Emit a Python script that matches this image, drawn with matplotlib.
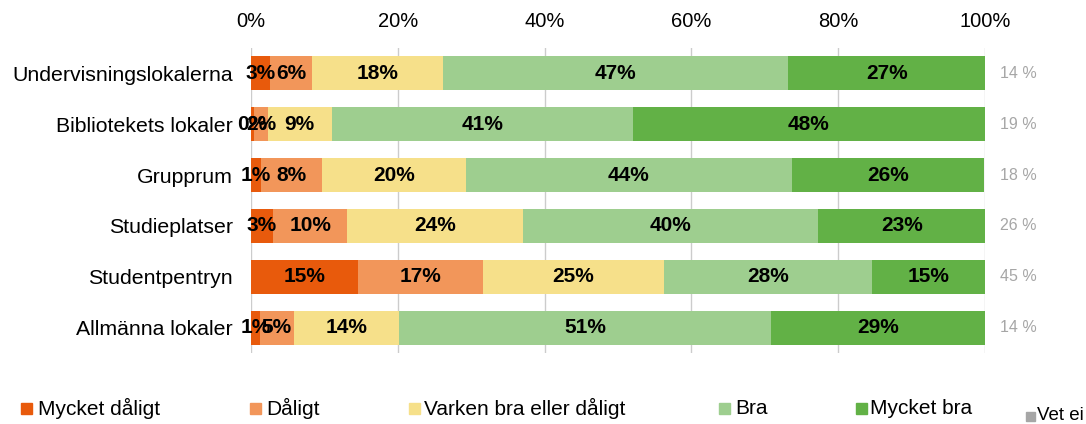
import matplotlib.pyplot as plt
from matplotlib.patches import Rectangle

plt.rcParams['font.family'] = ['Liberation Sans', 'DejaVu Sans']

# données
kategorier = ["Undervisningslokalerna", "Bibliotekets lokaler", "Grupprum",
              "Studieplatser", "Studentpentryn", "Allmänna lokaler"]
svar = ["Mycket dåligt", "Dåligt", "Varken bra eller dåligt", "Bra", "Mycket bra"]
mycket_daligt = [2.6, 0.4, 1.4, 3.0, 14.6, 1.2]
daligt = [5.7, 1.9, 8.3, 10.1, 17.0, 4.6]
varken = [17.8, 8.7, 19.6, 24.0, 24.7, 14.4]
bra = [47.1, 41.0, 44.4, 40.2, 28.3, 50.7]
mycket_bra = [26.8, 48.0, 26.2, 22.8, 15.4, 29.2]
vet_ei = [14, 19, 18, 26, 45, 14]

serier = [mycket_daligt, daligt, varken, bra, mycket_bra]
couleurs = ["#E85A0C", "#F2965A", "#F6E08A", "#9ECE8F", "#62B146"]
gris = "#A6A6A6"

fig = plt.figure(figsize=(10.86, 4.24), dpi=100)
ax = fig.add_axes([0.2311, 0.1675, 0.6759, 0.7193])

y = list(range(len(kategorier)))
gauche = [0.0] * len(kategorier)
for vals, c in zip(serier, couleurs):
    ax.barh(y, vals, left=gauche, height=0.67, color=c, zorder=3)
    for i, v in enumerate(vals):
        ax.text(gauche[i] + v / 2, i, f"{round(v)}%", ha="center", va="center",
                fontsize=15, fontweight="bold", color="black", zorder=4)
    gauche = [g + v for g, v in zip(gauche, vals)]

for i, v in enumerate(vet_ei):
    ax.text(102, i, f"{v} %", ha="left", va="center", fontsize=11.5, color=gris,
            clip_on=False)

ax.set_xlim(0, 100)
ax.set_ylim(len(kategorier) - 0.5, -0.5)
ax.set_xticks(range(0, 101, 20))
ax.set_xticklabels([f"{t}%" for t in range(0, 101, 20)], fontsize=14.5)
ax.xaxis.tick_top()
ax.tick_params(axis="x", length=0, pad=12)
ax.set_yticks(y)
ax.set_yticklabels(kategorier, fontsize=15.3)
ax.tick_params(axis="y", length=0, pad=13)
ax.grid(axis="x", color="#CCCCCC", linewidth=1, zorder=0)
for s in ax.spines.values():
    s.set_visible(False)

# légende placée à la main
pos_carre = [21, 250, 409, 719, 856]
pos_texte = [38, 266, 424, 735, 870]
for px, tx, lab, c in zip(pos_carre, pos_texte, svar, couleurs):
    fig.patches.append(Rectangle((px / 1086, 1 - 414 / 424), 11 / 1086, 11 / 424,
                                 transform=fig.transFigure, color=c))
    fig.text(tx / 1086, 1 - 408 / 424, lab, ha="left", va="center", fontsize=15)
fig.patches.append(Rectangle((1026 / 1086, 1 - 421 / 424), 9 / 1086, 9 / 424,
                             transform=fig.transFigure, color=gris))
fig.text(1037 / 1086, 1 - 416 / 424, "Vet ei", ha="left", va="center", fontsize=13.5)

fig.savefig("out.png", dpi=100)
